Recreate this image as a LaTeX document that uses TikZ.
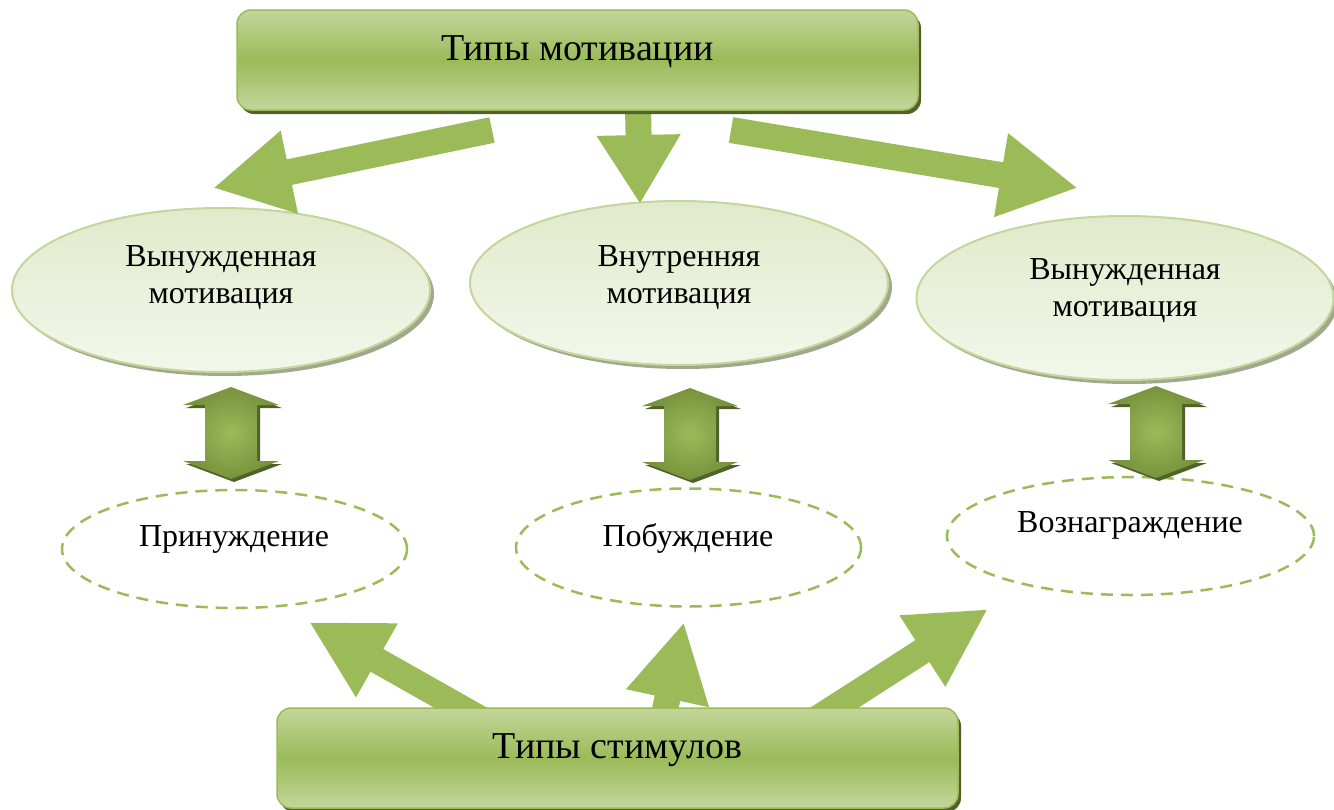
\documentclass[tikz,border=0pt]{standalone}
\usepackage{fontspec}
\setmainfont{Liberation Serif}
\usetikzlibrary{shapes.geometric,shadows,arrows.meta}
\definecolor{OGreen}{HTML}{9BBB59}
\definecolor{OLight}{HTML}{C3D69B}
\definecolor{ODark}{HTML}{4F6228}
\definecolor{OOlive}{HTML}{77933C}
\definecolor{OPaleTop}{HTML}{E1EACB}
\definecolor{OPaleBot}{HTML}{F3F7EB}
\definecolor{OShade}{HTML}{A0A98C}
\tikzset{
    typebox/.style = {rectangle, draw=OGreen, line width=1.5pt, rounded corners=14pt,
        minimum width=681pt, minimum height=100pt,
        text height=18pt, text depth=18pt,
        font=\fontsize{38}{45}\selectfont,
        top color=OLight, bottom color=OLight, middle color=OGreen,
        general shadow={fill=ODark, shadow xshift=3pt, shadow yshift=-4pt}},
    motiv/.style = {ellipse, draw=OLight, line width=2pt, inner sep=0pt,
        minimum width=418pt, minimum height=164pt,
        top color=OPaleTop, bottom color=OPaleBot,
        general shadow={fill=OShade, shadow xshift=4pt, shadow yshift=-4pt}},
    stim/.style = {ellipse, draw=OGreen, line width=2.5pt, dash pattern=on 12pt off 8pt,
        inner sep=0pt, minimum width=345pt, minimum height=118pt},
    label/.style = {font=\fontsize{32}{37}\selectfont, align=center, inner sep=0pt},
    flatarrow/.style = {draw=OGreen, line width=26pt, -{Triangle[length=#1, width=79pt]}},
    flatarrow/.default = 78pt
}

\begin{document}
\begin{tikzpicture}[x=1pt,y=-1pt]
    \useasboundingbox (0,0) rectangle (1334,809);
    % kinds of motivation
    \node[motiv] (mot1) at (221,290) {};
    \node[motiv] (mot2) at (679,283) {};
    \node[motiv, minimum width=417pt] (mot3) at (1125,298) {};
    \node[label] (mot1txt) at (221,278) {Вынужденная\\мотивация};
    \node[label] (mot2txt) at (679,278) {Внутренняя\\мотивация};
    \node[label] (mot3txt) at (1125,291) {Вынужденная\\мотивация};
    % kinds of stimuli
    \node[stim] (stim1) at (234.5,549) {};
    \node[stim] (stim2) at (688.5,547.5) {};
    \node[stim, minimum width=367pt] (stim3) at (1130.5,536) {};
    \node[label, anchor=base] (stim1txt) at (234,546) {Принуждение};
    \node[label, anchor=base] (stim2txt) at (688,546) {Побуждение};
    \node[label, anchor=base] (stim3txt) at (1130,532) {Вознаграждение};
    % two-way arrows
    \foreach \cx/\cy in {231/433, 690/434, 1156/432} {
        \fill[ODark, shift={(\cx+3,\cy+3)}] (0,-46) -- (48,-28) -- (26,-28) -- (26,28) -- (48,28)
            -- (0,46) -- (-48,28) -- (-26,28) -- (-26,-28) -- (-48,-28) -- cycle;
        \shade[inner color=OGreen, outer color=OOlive, shift={(\cx,\cy)}] (0,-46) -- (48,-28) -- (26,-28)
            -- (26,28) -- (48,28) -- (0,46) -- (-48,28) -- (-26,28) -- (-26,-28) -- (-48,-28) -- cycle;
    }
%    \foreach \cx in {231,690,1156} { \draw[red] (\cx,380) -- (\cx,490); }
    % flat arrows
    \coordinate (a1s) at (492,130);
    \coordinate (a1e) at (213,188);
    \coordinate (a2s) at (638,108);
    \coordinate (a2e) at (640,204);
    \coordinate (a3s) at (731,130);
    \coordinate (a3e) at (1078,188);
    \coordinate (b1s) at (486,722);
    \coordinate (b1e) at (309,622);
    \coordinate (b2s) at (661,728);
    \coordinate (b2e) at (684,622);
    \coordinate (b3s) at (812,722);
    \coordinate (b3e) at (988,609);
    \draw[flatarrow] (a1s) -- (a1e);
    \draw[flatarrow=69pt] (a2s) -- (a2e);
    \draw[flatarrow] (a3s) -- (a3e);
    \draw[flatarrow] (b1s) -- (b1e);
    \draw[flatarrow] (b2s) -- (b2e);
    \draw[flatarrow] (b3s) -- (b3e);
    % the two headers
    \node[typebox] (motivtypes) at (577.5,60) {Типы мотивации};
    \node[typebox] (stimtypes) at (617.5,758) {Типы стимулов};
\end{tikzpicture}
\end{document}
